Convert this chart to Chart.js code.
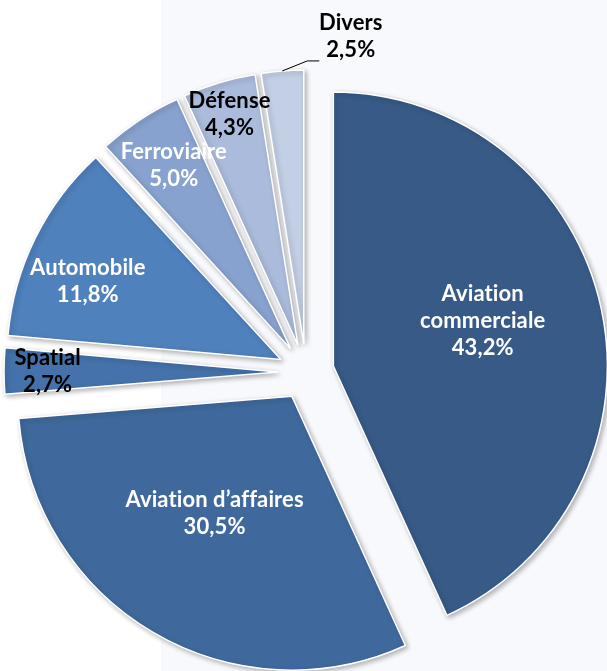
<!DOCTYPE html>
<html>
<head>
<meta charset="utf-8">
<script src="https://cdn.jsdelivr.net/npm/chart.js@4/dist/chart.umd.min.js"></script>
<style>
    html, body { margin: 0; padding: 0; background: #ffffff; }
    #wrap { width: 607px; height: 671px; position: relative; }
</style>
</head>
<body>
<div id="wrap"><canvas id="pieChart"></canvas></div>
<script>
// Data
const categories = ['Aviation commerciale', 'Aviation d\u2019affaires', 'Spatial', 'Automobile', 'Ferroviaire', 'Défense', 'Divers'];
const labelLines = [['Aviation', 'commerciale'], ['Aviation d\u2019affaires'], ['Spatial'], ['Automobile'], ['Ferroviaire'], ['Défense'], ['Divers']];
const shares = [43.2, 30.5, 2.7, 11.8, 5.0, 4.3, 2.5];

// Styles
const sliceColors = ['#375a87', '#3f699c', '#4572aa', '#4f81bd', '#87a2ce', '#aabbdb', '#c3cfe5'];
const labelColors = ['#ffffff', '#ffffff', '#000000', '#ffffff', '#ffffff', '#000000', '#000000'];
// label anchor: angle shift (deg) from slice mid, distance as a fraction of radius from pie centre
const labelPlace = [
    { a: -3.8, r: 0.671 },
    { a: 2.5, r: 0.614 },
    { a: 0, r: 0.943 },
    { a: -3.8, r: 0.862 },
    { a: 0.9, r: 0.896 },
    { a: 0.2, r: 0.981 },
    { a: 12.1, r: 1.236, leader: true },
];
const EXPLODE = 28;       // px each slice is pulled out of the centre
const RADIUS = 274;
const FONT = 'bold 22px Lato, "DejaVu Sans", sans-serif';
const LINE_H = 27;

const fmtPct = v => v.toFixed(1).replace('.', ',') + '%';

// panel background: white strip on the left, pale blue plot area on the right
const backgroundPlugin = {
    id: 'panelBackground',
    beforeDraw(chart) {
        const { ctx, width, height } = chart;
        ctx.save();
        ctx.fillStyle = '#ffffff';
        ctx.fillRect(0, 0, width, height);
        ctx.fillStyle = '#f8f9fc';
        ctx.fillRect(161, 0, width - 161, height);
        ctx.restore();
    }
};

// pulls every slice out along its mid angle, adds a soft shadow, then writes the labels
const explodePlugin = {
    id: 'explodeSlices',
    afterDatasetsUpdate(chart) {
        const meta = chart.getDatasetMeta(0);
        meta.data.forEach(arc => {
            const mid = (arc.startAngle + arc.endAngle) / 2;
            arc.cx0 = arc.x;
            arc.cy0 = arc.y;
            arc.x = arc.x + Math.cos(mid) * EXPLODE;
            arc.y = arc.y + Math.sin(mid) * EXPLODE;
        });
    },
    beforeDatasetsDraw(chart) {
        const { ctx } = chart;
        ctx.save();
        ctx.shadowColor = 'rgba(0, 0, 0, 0.28)';
        ctx.shadowBlur = 5;
        ctx.shadowOffsetX = 2;
        ctx.shadowOffsetY = 2;
    },
    afterDatasetsDraw(chart) {
        const { ctx } = chart;
        ctx.restore();
        const meta = chart.getDatasetMeta(0);
        ctx.save();
        ctx.font = FONT;
        ctx.letterSpacing = '0.1px'; // also keeps "ti" from turning into a ligature
        ctx.textAlign = 'center';
        ctx.textBaseline = 'middle';
        meta.data.forEach((arc, i) => {
            const place = labelPlace[i];
            const mid = (arc.startAngle + arc.endAngle) / 2;
            const ang = mid + place.a * Math.PI / 180;
            const r = arc.outerRadius;
            const lx = arc.cx0 + Math.cos(ang) * r * place.r;
            const ly = arc.cy0 + Math.sin(ang) * r * place.r;
            const lines = labelLines[i].concat([fmtPct(shares[i])]);
            const top = ly - (lines.length - 1) * LINE_H / 2;
            ctx.fillStyle = labelColors[i];
            lines.forEach((t, k) => ctx.fillText(t, lx, top + k * LINE_H));

            if (place.leader) {
                const sx = arc.x + Math.cos(mid) * r;
                const sy = arc.y + Math.sin(mid) * r;
                ctx.beginPath();
                ctx.strokeStyle = '#000000';
                ctx.lineWidth = 1;
                ctx.moveTo(sx, sy);
                ctx.lineTo(sx + 25, sy - 10);
                ctx.lineTo(sx + 37, sy - 10);
                ctx.stroke();
            }
        });
        ctx.restore();
    }
};

const ctx = document.getElementById('pieChart').getContext('2d');
new Chart(ctx, {
    type: 'pie',
    data: {
        labels: categories,
        datasets: [{
            data: shares,
            backgroundColor: sliceColors,
            borderColor: '#ffffff',
            borderWidth: 1.5,
        }]
    },
    options: {
        responsive: true,
        maintainAspectRatio: false,
        animation: false,
        radius: RADIUS,
        layout: { padding: { left: 5, right: 0, top: 73, bottom: 0 } },
        plugins: {
            legend: { display: false },
            tooltip: { enabled: false },
        }
    },
    plugins: [backgroundPlugin, explodePlugin]
});
</script>
</body>
</html>
